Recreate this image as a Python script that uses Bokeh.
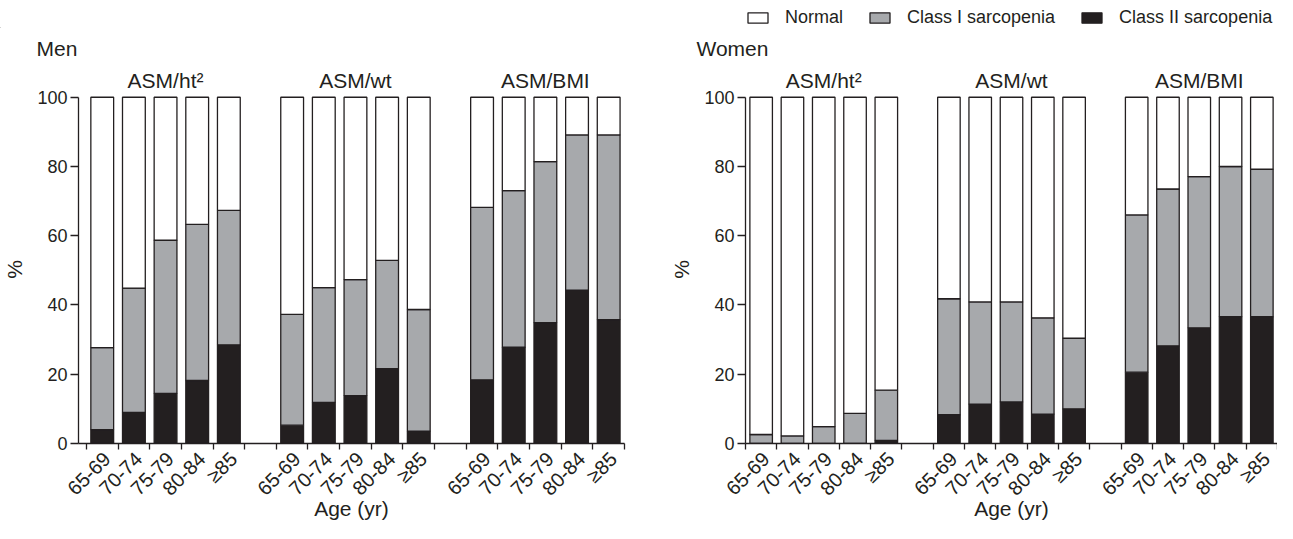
import math
from bokeh.plotting import figure
from bokeh.models import (Range1d, FixedTicker, Legend, LegendItem, ColumnDataSource,
                          LinearAxis)
from bokeh.layouts import row, column
from bokeh.embed import file_html
from bokeh.resources import INLINE

# ---------------- data ----------------
age_groups = ["65-69", "70-74", "75-79", "80-84", "\u226585"]
indices = ["ASM/ht\u00b2", "ASM/wt", "ASM/BMI"]
series = ["Normal", "Class I sarcopenia", "Class II sarcopenia"]

# percentages per bar: index groups in order ASM/ht2, ASM/wt, ASM/BMI; ages 65-69 .. >=85
men_class2 = [4.0, 9.0, 14.5, 18.2, 28.5, 5.3, 11.9, 13.8, 21.6, 3.6, 18.4, 27.8, 34.9, 44.3, 35.8]
men_class1 = [23.7, 35.9, 44.2, 45.1, 38.8, 32.0, 33.1, 33.5, 31.3, 35.1, 49.8, 45.2, 46.5, 44.8, 53.3]
men_normal = [72.3, 55.1, 41.3, 36.7, 32.7, 62.7, 55.0, 52.7, 47.1, 61.3, 31.8, 27.0, 18.6, 10.9, 10.9]

women_class2 = [0.0, 0.0, 0.0, 0.0, 0.9, 8.3, 11.4, 12.0, 8.5, 10.0, 20.6, 28.2, 33.4, 36.6, 36.6]
women_class1 = [2.6, 2.2, 4.9, 8.7, 14.5, 33.5, 29.5, 28.9, 27.8, 20.4, 45.4, 45.3, 43.7, 43.4, 42.6]
women_normal = [97.4, 97.8, 95.1, 91.3, 84.6, 58.2, 59.1, 59.1, 63.7, 69.6, 34.0, 26.5, 22.9, 20.0, 20.8]

# ---------------- style / layout ----------------
FONT = "Liberation Sans"
INK = "#231f20"
GRAY = "#a7a9ac"
FILLS = [INK, GRAY, "white"]        # class II, class I, normal
TOTAL_W = 1277
LEG_H = 28          # strip holding the legend
H = 523 - LEG_H     # chart panels
TOP = 95 - LEG_H    # frame top (px) inside a panel
BOTTOM = 79         # space under the frame (px)
Y_TOP = 100.5
LABEL_SHIFT = 0.15  # rotated age labels sit slightly right of the bar centre

# slot positions: 5 bars, gap, 5 bars, gap, 5 bars
xs = [g * 6 + a for g in range(3) for a in range(5)]
boundaries = [k - 0.5 for k in range(18)]
label_ticks = [x + LABEL_SHIFT for x in xs]
labels_map = {t: age_groups[i % 5] for i, t in enumerate(label_ticks)}
group_centers = [g * 6 + 2 for g in range(3)]
group_map = {group_centers[g]: indices[g] for g in range(3)}


def style_axis(ax, label_size="18px", title_size="21px"):
    ax.axis_line_color = INK
    ax.axis_line_width = 1.3
    ax.major_label_text_font = FONT
    ax.major_label_text_font_size = label_size
    ax.major_label_text_color = INK
    ax.axis_label_text_font = FONT
    ax.axis_label_text_font_size = title_size
    ax.axis_label_text_font_style = "normal"
    ax.axis_label_text_color = INK


def make_panel(title, width, left, right, x_start, title_px, c2, c1, nm):
    p = figure(width=width, height=H, x_range=Range1d(x_start, 16.5), y_range=Range1d(0, Y_TOP),
               output_backend="svg", toolbar_location=None,
               min_border_left=left, min_border_right=right,
               min_border_top=TOP, min_border_bottom=BOTTOM)
    p.grid.visible = False
    p.outline_line_color = None

    src = ColumnDataSource(dict(x=xs, class2=c2, class1=c1, normal=nm))
    p.vbar_stack(["class2", "class1", "normal"], x="x", width=0.72, source=src,
                 fill_color=FILLS, line_color=INK, line_width=1.3)

    # x axis (age groups, ticks between bars)
    xa = p.xaxis[0]
    xa.ticker = FixedTicker(ticks=label_ticks, minor_ticks=boundaries)
    xa.major_label_overrides = labels_map
    xa.major_label_orientation = math.pi / 4
    xa.major_tick_line_color = None
    xa.major_tick_out = 6
    xa.major_tick_in = 0
    xa.minor_tick_out = 6
    xa.minor_tick_in = 0
    xa.minor_tick_line_color = INK
    xa.minor_tick_line_width = 1.3
    xa.major_label_standoff = 6
    xa.axis_label = "Age (yr)"
    xa.axis_label_standoff = -13
    style_axis(xa, label_size="20px")

    # y axis
    ya = p.yaxis[0]
    ya.ticker = FixedTicker(ticks=[0, 20, 40, 60, 80, 100])
    ya.bounds = (0, 100)
    ya.minor_tick_line_color = None
    ya.major_tick_out = 8
    ya.major_tick_in = 0
    ya.major_tick_line_width = 1.3
    ya.major_tick_line_color = INK
    ya.major_label_standoff = 3
    ya.axis_label = "%"
    ya.axis_label_standoff = 8
    style_axis(ya)

    # index-group labels above the bars
    ga = LinearAxis(ticker=FixedTicker(ticks=group_centers), major_label_overrides=group_map)
    ga.minor_tick_line_color = None
    ga.major_tick_line_color = None
    ga.major_tick_out = 0
    ga.major_tick_in = 0
    ga.major_label_standoff = 4
    style_axis(ga, label_size="21px")
    ga.axis_line_color = None
    p.add_layout(ga, "above")

    # panel title
    p.title.text = title
    p.title.align = "left"
    p.title.offset = title_px - left
    p.title.standoff = 12
    p.title.text_font = FONT
    p.title.text_font_size = "21px"
    p.title.text_font_style = "normal"
    p.title.text_color = INK
    return p


men = make_panel("Men", 640, 78, 16, -0.75, 36, men_class2, men_class1, men_normal)
women = make_panel("Women", TOTAL_W - 640, 105, 0, -0.5, 56,
                   women_class2, women_class1, women_normal)

# legend strip across the top (swatch renderers hold one bar far outside the view)
lg = figure(width=TOTAL_W, height=LEG_H, x_range=Range1d(0, 1), y_range=Range1d(0, 1),
            output_backend="svg", toolbar_location=None,
            min_border_left=0, min_border_right=0, min_border_top=0, min_border_bottom=0)
lg.axis.visible = False
lg.grid.visible = False
lg.outline_line_color = None
swatches = {name: lg.vbar(x=[-50], bottom=[-60], top=[-55], width=0.1, fill_color=fill,
                          line_color=INK, line_width=1.3)
            for name, fill in zip(series, ["white", GRAY, INK])}
legend = Legend(items=[LegendItem(label=name, renderers=[swatches[name]]) for name in series],
                orientation="horizontal", location=(745, 0),
                padding=0, margin=0, spacing=24, label_standoff=15,
                glyph_width=25, glyph_height=13,
                label_text_font=FONT, label_text_font_size="18px",
                label_text_color=INK, border_line_color=None,
                background_fill_alpha=0)
lg.add_layout(legend)

layout = column(lg, row(men, women))
open("out.html", "w").write(file_html(layout, INLINE))
